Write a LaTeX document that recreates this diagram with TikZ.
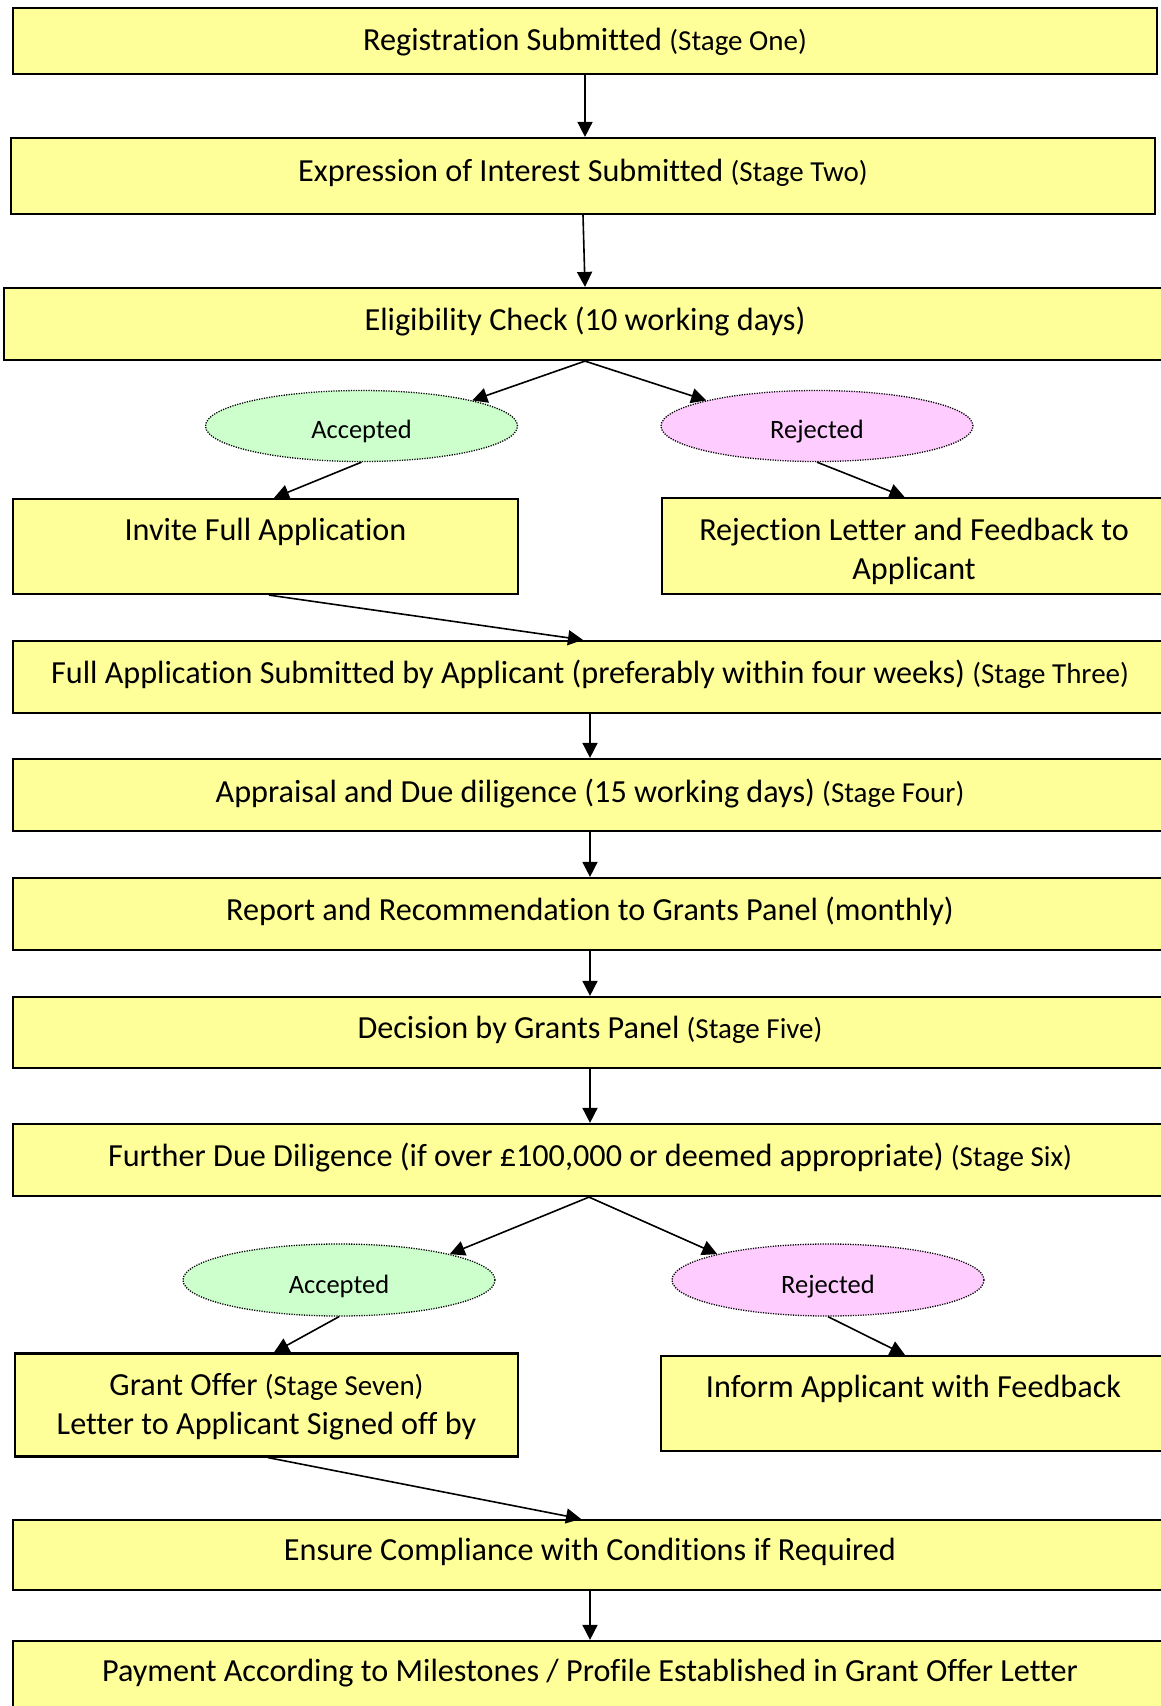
\documentclass[tikz,border=0pt]{standalone}
\usepackage{fontspec}
\setmainfont{Carlito}[Ligatures=NoCommon]
\usetikzlibrary{arrows.meta,shapes.geometric}
\definecolor{boxy}{HTML}{FFFF99}
\definecolor{accg}{HTML}{CCFFCC}
\definecolor{rejp}{HTML}{FFCCFF}
\newcommand\stg[1]{{\fontsize{29}{34}\selectfont #1}}
\begin{document}
\begin{tikzpicture}[x=1pt,y=-1pt,
 box/.style={draw=black, fill=boxy, line width=2.2pt, rectangle, inner sep=0pt},
 oval/.style={draw=black, fill=#1, ellipse, line width=1.3pt, dash pattern=on 1.2pt off 1.3pt, minimum width=312pt, minimum height=71pt, inner sep=0pt},
 txt/.style={anchor=base, inner sep=0pt, yshift=-1.8pt, font=\fontsize{32.2}{38}\selectfont},
 etxt/.style={anchor=base, inner sep=0pt, yshift=-2pt, font=\fontsize{26.5}{31}\selectfont},
 arr/.style={-{Triangle[length=15pt,width=15pt]}, line width=1.6pt}
]
\useasboundingbox[fill=white] (0,0) rectangle (1161,1706);

% boxes
\node[box, minimum width=1144pt, minimum height=66pt] (b1) at (585,41) {};
\node[box, minimum width=1144pt, minimum height=76pt] (b2) at (583,176) {};
\node[box, minimum width=1162pt, minimum height=72pt] (b3) at (585,324) {};
\node[oval=accg] (e1a) at (361.5,426) {};
\node[oval=rejp] (e1r) at (817,426) {};
\node[box, minimum width=505pt, minimum height=95pt] (b4) at (265.5,546.5) {};
\node[box, minimum width=504pt, minimum height=96pt] (b5) at (914,546) {};
\node[box, minimum width=1154pt, minimum height=72pt] (b6) at (590,677) {};
\node[box, minimum width=1154pt, minimum height=72pt] (b7) at (590,795) {};
\node[box, minimum width=1154pt, minimum height=72pt] (b8) at (590,914) {};
\node[box, minimum width=1154pt, minimum height=71pt] (b9) at (590,1032.5) {};
\node[box, minimum width=1154pt, minimum height=72pt] (b10) at (590,1160) {};
\node[oval=accg, minimum height=72pt] (e2a) at (339,1280) {};
\node[oval=rejp, minimum height=72pt] (e2r) at (828,1280) {};
\node[box, minimum width=503pt, minimum height=103pt] (b11) at (266.5,1405) {};
\node[box, minimum width=505pt, minimum height=95pt] (b12) at (913.5,1403.5) {};
\node[box, minimum width=1154pt, minimum height=70pt] (b13) at (590,1555) {};
\node[box, minimum width=1154pt, minimum height=70pt] (b14) at (590,1676) {};

% texts
\node[txt] (t1) at (585,48.3) {Registration Submitted \stg{(Stage One)}};
\node[txt] (t2) at (583,180) {Expression of Interest Submitted \stg{(Stage Two)}};
\node[txt] (t3) at (585,329) {Eligibility Check (10 working days)};
\node[etxt] (te1a) at (361.5,436.5) {Accepted};
\node[etxt] (te1r) at (817,436.5) {Rejected};
\node[txt] (t4) at (265.5,539) {Invite Full Application};
\node[txt] (t5a) at (914,539) {Rejection Letter and Feedback to};
\node[txt] (t5b) at (914,578) {Applicant};
\node[txt] (t6) at (590,682) {Full Application Submitted by Applicant (preferably within four weeks) \stg{(Stage Three)}};
\node[txt] (t7) at (590,800.5) {Appraisal and Due diligence (15 working days) \stg{(Stage Four)}};
\node[txt] (t8) at (590,919) {Report and Recommendation to Grants Panel (monthly)};
\node[txt] (t9) at (590,1037) {Decision by Grants Panel \stg{(Stage Five)}};
\node[txt] (t10) at (590,1164.5) {Further Due Diligence (if over £100,000 or deemed appropriate) \stg{(Stage Six)}};
\node[etxt] (te2a) at (339,1291) {Accepted};
\node[etxt] (te2r) at (828,1291) {Rejected};
\node[txt] (t11a) at (266.5,1394) {Grant Offer \stg{(Stage Seven)}};
\node[txt] (t11b) at (266.5,1433) {Letter to Applicant Signed off by};
\node[txt] (t12) at (913.5,1396) {Inform Applicant with Feedback};
\node[txt] (t13) at (590,1558.5) {Ensure Compliance with Conditions if Required};
\node[txt] (t14) at (590,1680) {Payment According to Milestones / Profile Established in Grant Offer Letter};

% connectors
\draw[arr] (b1.south) -- (b1.south |- b2.north);
\draw[arr] (b2.south) -- (b3.north);
\draw[arr] (b3.south) -- (e1a.north east);
\draw[arr] (b3.south) -- (e1r.north west);
\draw[arr] (e1a.south) -- ([xshift=8.5pt]b4.north);
\draw[arr] (e1r.south) -- ([xshift=-9.5pt]b5.north);
\draw[arr] ([xshift=3.5pt]b4.south) -- ([xshift=-7pt]b6.north);
\draw[arr] (b6.south) -- (b7.north);
\draw[arr] (b7.south) -- (b8.north);
\draw[arr] (b8.south) -- (b9.north);
\draw[arr] (b9.south) -- (b10.north);
\draw[arr] ([xshift=-1pt]b10.south) -- (e2a.north east);
\draw[arr] ([xshift=-1pt]b10.south) -- (e2r.north west);
\draw[arr] (e2a.south) -- ([xshift=7.5pt]b11.north);
\draw[arr] (e2r.south) -- ([xshift=-8.5pt]b12.north);
\draw[arr] ([xshift=1.5pt]b11.south) -- ([xshift=-9pt]b13.north);
\draw[arr] (b13.south) -- (b14.north);
\end{tikzpicture}
\end{document}
